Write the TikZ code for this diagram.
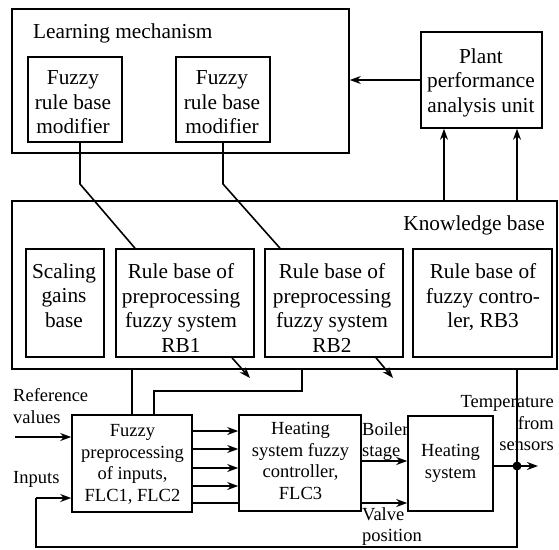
\documentclass[tikz,border=0pt]{standalone}
\usepackage{fontspec}
\setmainfont{Liberation Serif}
\usetikzlibrary{arrows.meta,calc}
\begin{document}
\begin{tikzpicture}[x=1pt,y=-1pt,
 box/.style={draw,line width=1.6pt,inner sep=0pt},
 bigtxt/.style={font=\fontsize{21.3}{24.5}\selectfont,align=center,inner sep=0pt},
 smtxt/.style={font=\fontsize{18.5}{21.5}\selectfont,align=center,inner sep=0pt},
 ln/.style={line width=1.6pt},
 arr/.style={ln,-{Stealth[length=11pt,width=8pt]}}]
\useasboundingbox (0,0) rectangle (559,549);
% upper part
\node[box,minimum width=337pt,minimum height=144pt] (lm) at (180.5,81) {};
\node[bigtxt,anchor=base west] (lmt) at (33,38) {Learning mechanism};
\node[box,minimum width=94pt,minimum height=85pt] (mod1) at (75,99.5) {};
\node[bigtxt,anchor=north] (mod1t) at (73,70.5) {Fuzzy\\rule base\\modifier};
\node[box,minimum width=94pt,minimum height=85pt] (mod2) at (223,99.5) {};
\node[bigtxt,anchor=north] (mod2t) at (222,70.5) {Fuzzy\\rule base\\modifier};
\node[box,minimum width=121pt,minimum height=96pt] (plant) at (481.5,80) {};
\node[bigtxt,anchor=north] (plantt) at (481,48.5) {Plant\\performance\\analysis unit};
% knowledge base
\node[box,minimum width=545pt,minimum height=168pt] (kb) at (284.5,285) {};
\node[bigtxt,anchor=base east] (kbt) at (545,230) {Knowledge base};
\node[box,minimum width=78pt,minimum height=108pt] (sg) at (65,303) {};
\node[bigtxt,anchor=north] (sgt) at (64,263.5) {Scaling\\gains\\base};
\node[box,minimum width=138pt,minimum height=108pt] (rb1) at (185,303) {};
\node[bigtxt,anchor=north] (rb1t) at (181,263.5) {Rule base of\\preprocessing\\fuzzy system\\RB1};
\node[box,minimum width=138pt,minimum height=108pt] (rb2) at (334,303) {};
\node[bigtxt,anchor=north] (rb2t) at (332,263.5) {Rule base of\\preprocessing\\fuzzy system\\RB2};
\node[box,minimum width=139pt,minimum height=108pt] (rb3) at (482.5,303) {};
\node[bigtxt,anchor=north] (rb3t) at (483,263.5) {Rule base of\\fuzzy contro-\\ler, RB3};
% lower part
\node[box,minimum width=120pt,minimum height=97pt] (pre) at (132,463.5) {};
\node[smtxt,anchor=north] (pret) at (132.5,424.4) {Fuzzy\\preprocessing\\of inputs,\\FLC1, FLC2};
\node[box,minimum width=122pt,minimum height=96pt] (flc) at (300,463) {};
\node[smtxt,anchor=north] (flct) at (300.5,422.4) {Heating\\system fuzzy\\controller,\\FLC3};
\node[box,smtxt,minimum width=85pt,minimum height=95pt] (hs) at (450.5,463.5) {Heating\\system};
% labels
\node[smtxt,align=left,anchor=north west] (boil) at (362,422.4) {Boiler\\stage};
\node[smtxt,align=left,anchor=north west] (valve) at (362,507.4) {Valve\\position};
\node[smtxt,align=right,anchor=north east] (temp) at (554,395.4) {Temperature\\from\\sensors};
\node[smtxt,align=left,anchor=north west] (refv) at (13,388.4) {Reference\\values};
\node[smtxt,anchor=base west] (inp) at (13,483) {Inputs};
% coordinates
\coordinate (xa) at (444,0);
\coordinate (xb) at (517,0);
\coordinate (m1b) at (80,184);
\coordinate (m1x) at (80,0);
\coordinate (r1t) at (135,0);
\coordinate (m2b) at (223,184);
\coordinate (m2x) at (223,0);
\coordinate (r2t) at (280,0);
\coordinate (d1) at (232,0);
\coordinate (d1e) at (250,378);
\coordinate (d2) at (376,0);
\coordinate (d2e) at (393,378);
\coordinate (k1) at (132,0);
\coordinate (k2) at (302,391);
\coordinate (k2b) at (154,391);
\coordinate (yboil) at (0,461);
\coordinate (yvalve) at (0,503);
\coordinate (yout) at (0,466);
\coordinate (out) at (538,466);
\coordinate (fbr) at (517,547);
\coordinate (fbl) at (36,547);
\coordinate (fbu) at (36,498);
\coordinate (refs) at (15,437);
% connectors
\draw[arr] (plant.west) -- (lm.east|-plant.west);
\draw[arr] (xa|-kb.north) -- (xa|-plant.south);
\draw[arr] (xb|-kb.north) -- (xb|-plant.south);
\draw[ln] (m1x|-mod1.south) -- (m1b) -- (r1t|-rb1.north);
\draw[ln] (m2x|-mod2.south) -- (m2b) -- (r2t|-rb2.north);
\draw[arr] (d1|-rb1.south) -- (d1e);
\draw[arr] (d2|-rb2.south) -- (d2e);
\draw[ln] (k1|-kb.south) -- (k1|-pre.north);
\draw[ln] (k2|-kb.south) -- (k2) -- (k2b) -- (k2b|-pre.north);
\foreach \yy in {431,449,468,486}{
  \coordinate (tt) at (0,\yy);
  \draw[arr] (tt-|pre.east) -- (tt-|flc.west);
}
\draw[ln] (yvalve-|pre.east) -- (yvalve-|flc.west);
\draw[arr] (yboil-|flc.east) -- (yboil-|hs.west);
\draw[arr] (yvalve-|flc.east) -- (yvalve-|hs.west);
\draw[arr] (yout-|hs.east) -- (out);
\fill (yout-|xb) circle (4.5);
\draw[ln] (xb|-kb.south) -- (fbr) -- (fbl) -- (fbu);
\draw[arr] (fbu) -- (fbu-|pre.west);
\draw[arr] (refs) -- (refs-|pre.west);
\end{tikzpicture}
\end{document}
